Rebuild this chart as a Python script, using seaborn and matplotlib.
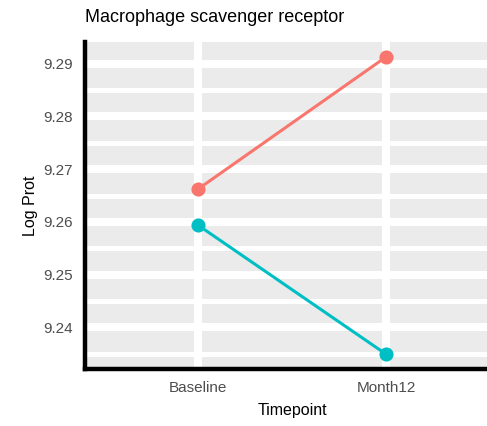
import matplotlib
matplotlib.use("Agg")
import matplotlib.pyplot as plt
import seaborn as sns
import pandas as pd
from matplotlib.ticker import MultipleLocator

timepoints = ["Baseline", "Month12", "Baseline", "Month12"]
groups = ["Group 1", "Group 1", "Group 2", "Group 2"]
log_prot = [9.2662, 9.2913, 9.2594, 9.2349]

palette = {"Group 1": "#F8766D", "Group 2": "#00BFC4"}

df = pd.DataFrame({"Timepoint": timepoints, "Group": groups, "LogProt": log_prot})

sns.set_style("white")
plt.rcParams["font.family"] = ["Liberation Sans", "DejaVu Sans"]

fig = plt.figure(figsize=(4.87, 4.26), dpi=100)
ax = fig.add_axes([0.1745, 0.134, 0.85, 0.767])
ax.set_facecolor("#EBEBEB")

sns.pointplot(data=df, x="Timepoint", y="LogProt", hue="Group", palette=palette,
              errorbar=None, markers="o", linestyles="-", markersize=8.5,
              linewidth=2.2, ax=ax, zorder=3)
if ax.get_legend() is not None:
    ax.get_legend().remove()

ax.set_xlim(-0.6, 1.6)
ax.set_ylim(9.2321, 9.2941)
ax.yaxis.set_major_locator(MultipleLocator(0.01))
ax.yaxis.set_minor_locator(MultipleLocator(0.005))
ax.set_yticklabels([f"{t:.2f}" for t in ax.get_yticks()])

ax.grid(which="major", axis="both", color="white", linewidth=5.8, zorder=0)
ax.grid(which="minor", axis="y", color="white", linewidth=3.6, zorder=0)
ax.set_axisbelow(True)

for side in ["top", "right"]:
    ax.spines[side].set_visible(False)
for side in ["left", "bottom"]:
    ax.spines[side].set_color("black")
    ax.spines[side].set_linewidth(3.2)

ax.tick_params(which="major", length=4.5, width=3.8, color="#333333",
               labelsize=11, labelcolor="#4D4D4D", pad=4)
ax.tick_params(which="minor", length=0)

ax.set_xlabel("Timepoint", fontsize=11.5, color="black", labelpad=6)
ax.set_ylabel("Log Prot", fontsize=11.5, color="black", labelpad=4)
fig.text(85 / 487, 1 - 18 / 426, "Macrophage scavenger receptor", fontsize=13,
         color="black", ha="left", va="center")

fig.savefig("out.png", dpi=100)
